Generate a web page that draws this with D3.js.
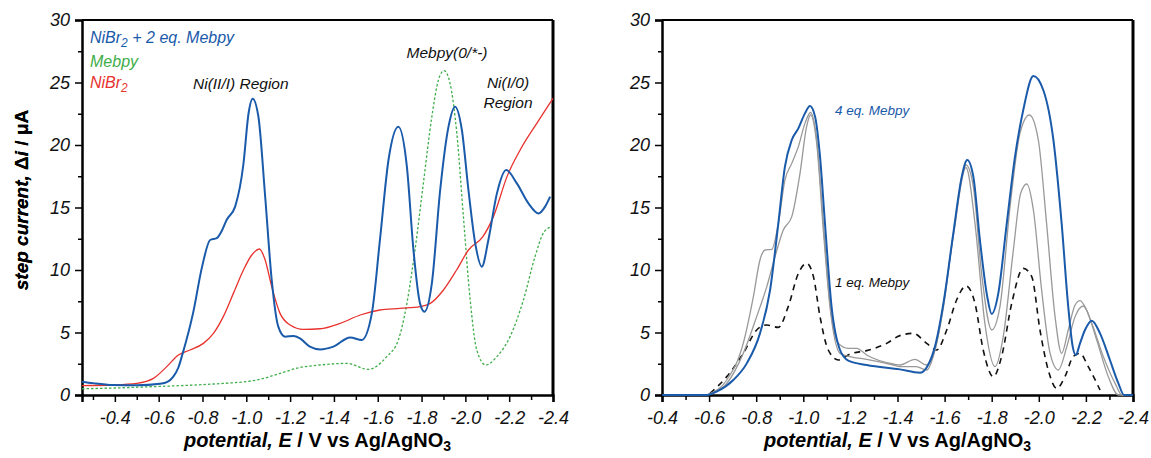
<!DOCTYPE html>
<html>
<head>
<meta charset="utf-8">
<script src="https://cdn.jsdelivr.net/npm/d3@7"></script>
<style>
  body { margin: 0; background: #fff; }
  svg text { font-family: "Liberation Sans", Arial, sans-serif; }
</style>
</head>
<body>
<script>
// left panel: NiBr2 + 2 eq. Mebpy, Mebpy, NiBr2
const mixV = [-0.25,-0.3,-0.39,-0.5,-0.606,-0.64,-0.666,-0.69,-0.71,-0.757,-0.798,-0.835,-0.865,-0.89,-0.91,-0.949,-0.987,-1.01,-1.029,-1.055,-1.086,-1.116,-1.146,-1.177,-1.215,-1.245,-1.29,-1.337,-1.397,-1.474,-1.527,-1.573,-1.61,-1.649,-1.694,-1.733,-1.763,-1.793,-1.813,-1.847,-1.885,-1.923,-1.953,-1.984,-2.014,-2.045,-2.075,-2.105,-2.144,-2.186,-2.235,-2.288,-2.334,-2.364,-2.387];
const mixI = [1.07,0.95,0.8,0.78,0.9,1.05,1.45,2.2,3.35,6.55,10.25,12.4,12.55,13.2,14.0,15.07,18.5,22.5,23.7,22.3,15.9,9.2,5.47,4.67,4.72,4.53,3.87,3.65,3.87,4.61,4.4,6.53,12.4,18.8,21.47,18.27,11.6,7.33,6.67,8.93,16.4,21.47,23.07,21.2,16.4,12.13,10.27,12.4,16.13,18.0,16.93,15.33,14.53,15.07,15.87];

const mebpyV = [-0.25,-0.4,-0.545,-0.7,-0.85,-1.048,-1.154,-1.245,-1.337,-1.459,-1.557,-1.641,-1.694,-1.733,-1.77,-1.808,-1.847,-1.877,-1.903,-1.93,-1.961,-1.991,-2.022,-2.052,-2.093,-2.144,-2.204,-2.265,-2.318,-2.36,-2.395];
const mebpyI = [0.5,0.56,0.65,0.75,0.88,1.2,1.73,2.2,2.4,2.53,2.05,3.07,4.4,7.33,11.6,16.9,22.27,25.2,25.95,24.93,20.93,14.27,7.6,3.6,2.4,3.07,4.67,7.6,11.07,13.07,13.47];

const nibrV = [-0.25,-0.39,-0.5,-0.576,-0.637,-0.69,-0.743,-0.804,-0.85,-0.895,-0.941,-0.987,-1.025,-1.06,-1.086,-1.116,-1.154,-1.2,-1.26,-1.337,-1.428,-1.52,-1.61,-1.702,-1.793,-1.84,-1.9,-1.96,-2.014,-2.08,-2.128,-2.19,-2.25,-2.326,-2.4];
const nibrI = [0.75,0.8,0.93,1.33,2.27,3.2,3.6,4.13,4.93,6.27,8.13,10.0,11.2,11.68,10.8,8.67,6.53,5.6,5.25,5.3,5.73,6.4,6.8,6.93,7.07,7.33,8.4,10.0,11.6,12.67,14.27,17.47,19.6,21.73,23.73];

// right panel: 4 eq. (blue), two intermediate (gray), 1 eq. (dashed)
const eq4V = [-0.4,-0.59,-0.632,-0.703,-0.76,-0.816,-0.859,-0.894,-0.922,-0.951,-0.979,-1.007,-1.028,-1.05,-1.071,-1.092,-1.12,-1.156,-1.191,-1.269,-1.41,-1.496,-1.53,-1.559,-1.595,-1.637,-1.673,-1.696,-1.722,-1.75,-1.781,-1.8,-1.828,-1.864,-1.899,-1.934,-1.977,-2.019,-2.062,-2.097,-2.125,-2.144,-2.157,-2.175,-2.196,-2.225,-2.26,-2.302,-2.338,-2.362,-2.4];
const eq4I = [0,0,0.27,1.2,2.53,4.93,8.4,13.73,18.27,20.4,21.33,22.53,23.12,22.27,19.07,13.73,7.07,3.6,2.75,2.4,2.05,1.79,2.4,3.87,7.33,12.93,17.47,18.8,17.47,12.4,7.87,6.48,8.13,13.73,19.07,22.8,25.52,24.4,20.4,13.73,7.07,3.87,3.2,4.13,5.2,5.95,4.93,2.8,0.93,0,0];

const eq3V = [-0.4,-0.59,-0.604,-0.675,-0.745,-0.788,-0.816,-0.837,-0.866,-0.894,-0.922,-0.951,-0.979,-1.007,-1.031,-1.057,-1.085,-1.113,-1.149,-1.191,-1.227,-1.269,-1.382,-1.41,-1.474,-1.524,-1.559,-1.595,-1.637,-1.691,-1.722,-1.757,-1.8,-1.835,-1.878,-1.92,-1.96,-1.998,-2.033,-2.069,-2.097,-2.125,-2.154,-2.175,-2.203,-2.246,-2.295,-2.338,-2.4];
const eq3I = [0,0,0.1,1.2,4.13,7.87,10.8,11.6,11.65,13.73,17.2,18.53,19.87,21.73,22.6,20.4,13.73,7.33,4.13,3.73,3.73,3.2,2.48,2.4,2.85,2.4,3.6,7.0,12.9,18.4,16.67,9.73,5.2,7.07,15.07,20.93,22.4,20.4,13.73,6.27,3.33,5.2,7.2,7.55,6.8,4.4,1.47,0,0];

const eq2V = [-0.4,-0.59,-0.604,-0.675,-0.745,-0.802,-0.845,-0.88,-0.915,-0.951,-0.986,-1.014,-1.031,-1.057,-1.085,-1.113,-1.156,-1.198,-1.269,-1.382,-1.41,-1.48,-1.524,-1.559,-1.595,-1.637,-1.691,-1.729,-1.771,-1.814,-1.849,-1.892,-1.923,-1.949,-1.977,-2.012,-2.048,-2.083,-2.119,-2.154,-2.189,-2.225,-2.274,-2.324,-2.353,-2.4];
const eq2I = [0,0,0.1,0.93,3.33,6.27,8.67,11.07,13.2,14.27,17.73,21.47,22.4,20.1,13.2,7.1,3.33,3.07,2.85,2.4,2.27,2.27,2.0,3.6,7.3,12.7,18.2,13.73,5.73,2.27,4.67,11.6,16.13,16.88,14.8,8.4,3.33,2.0,3.87,6.27,7.12,5.73,3.07,0.93,0,0];

const eq1V = [-0.604,-0.675,-0.745,-0.802,-0.845,-0.894,-0.936,-0.979,-1.014,-1.043,-1.071,-1.106,-1.149,-1.198,-1.269,-1.354,-1.41,-1.467,-1.524,-1.566,-1.609,-1.651,-1.691,-1.729,-1.764,-1.807,-1.842,-1.885,-1.934,-1.97,-2.005,-2.04,-2.076,-2.111,-2.146,-2.175,-2.21,-2.26];
const eq1I = [0.13,1.47,3.33,5.2,5.6,5.41,7.07,9.73,10.53,9.47,6.27,3.6,2.8,3.28,3.55,4.13,4.75,4.93,4.13,3.6,5.2,7.6,8.72,7.33,3.6,1.47,3.07,7.33,10.13,9.47,5.2,2.0,0.53,1.47,3.07,3.33,2.27,0.4];

const yTicks = [0, 5, 10, 15, 20, 25, 30];
const xTicks = [-0.4, -0.6, -0.8, -1.0, -1.2, -1.4, -1.6, -1.8, -2.0, -2.2, -2.4];
const xTickLabels = ["-0.4", "-0.6", "-0.8", "-1.0", "-1.2", "-1.4", "-1.6", "-1.8", "-2.0", "-2.2", "-2.4"];

const W = 1151, H = 458;
const svg = d3.select("body").append("svg").attr("width", W).attr("height", H);

const blue = "#1a5aaa", red = "#e8322e", green = "#3fae4a", gray = "#999999";

function panel(left, xDomain, minorX) {
  const top = 20, w = 471, h = 375;
  const g = svg.append("g").attr("transform", `translate(${left},${top})`);
  const x = d3.scaleLinear().domain(xDomain).range([0, w]);
  const y = d3.scaleLinear().domain([0, 30]).range([h, 0]);

  // minor ticks
  g.append("g").attr("transform", `translate(0,${h})`)
    .call(d3.axisBottom(x).tickValues(minorX).tickSize(5).tickFormat(""))
    .call(a => a.select(".domain").remove())
    .selectAll("line").attr("stroke-width", 1.5);
  g.append("g")
    .call(d3.axisLeft(y).tickValues(d3.range(2.5, 30, 5)).tickSize(4).tickFormat(""))
    .call(a => a.select(".domain").remove())
    .selectAll("line").attr("stroke-width", 1.5);

  const xa = g.append("g").attr("transform", `translate(0,${h})`)
    .call(d3.axisBottom(x).tickValues(xTicks).tickSize(7).tickPadding(9)
      .tickFormat((d, i) => xTickLabels[i]));
  const ya = g.append("g")
    .call(d3.axisLeft(y).tickValues(yTicks).tickSize(7).tickPadding(5));
  [xa, ya].forEach(a => {
    a.select(".domain").attr("stroke-width", 2.5);
    a.selectAll("line").attr("stroke-width", 1.5);
    a.selectAll("text").attr("font-size", 18).attr("font-style", "italic").attr("fill", "#111");
  });
  // frame top / right
  g.append("line").attr("x1", 0).attr("x2", w).attr("y1", 0).attr("y2", 0)
    .attr("stroke", "#000").attr("stroke-width", 2);
  g.append("line").attr("x1", w).attr("x2", w).attr("y1", 0).attr("y2", h)
    .attr("stroke", "#000").attr("stroke-width", 3);

  // axis titles
  const xt = g.append("text").attr("x", w / 2).attr("y", h + 52)
    .attr("text-anchor", "middle").attr("font-size", 20).attr("font-weight", "bold");
  xt.append("tspan").attr("font-style", "italic").text("potential, E");
  xt.append("tspan").text(" / V vs Ag/AgNO");
  xt.append("tspan").attr("font-size", 14).attr("dy", 4).text("3");

  const yt = g.append("text")
    .attr("transform", `translate(${-left + 28},${180}) rotate(-90)`)
    .attr("text-anchor", "middle").attr("font-size", 19).attr("font-weight", "bold");
  yt.append("tspan").attr("font-style", "italic").text("step current, ");
  yt.append("tspan").text("\u0394");
  yt.append("tspan").attr("font-style", "italic").text("i");
  yt.append("tspan").text(" / \u03bcA");

  return { g, x, y };
}

function drawLine(p, xs, ys, color, width, dash) {
  const pts = xs.map((v, i) => [v, ys[i]]);
  const line = d3.line().x(d => p.x(d[0])).y(d => p.y(d[1])).curve(d3.curveMonotoneX);
  p.g.append("path").datum(pts).attr("d", line)
    .attr("fill", "none").attr("stroke", color).attr("stroke-width", width)
    .attr("stroke-dasharray", dash || null).attr("stroke-linejoin", "round");
}

// ---------- left panel ----------
const L = panel(82, [-0.25, -2.4], d3.range(-0.3, -2.35, -0.2).map(v => +v.toFixed(1)));
drawLine(L, mebpyV, mebpyI, green, 1.3, "2.5,2");
drawLine(L, nibrV, nibrI, red, 1.3);
drawLine(L, mixV, mixI, blue, 2);

const lab = (p, x, y, txt, color, size, anchor) =>
  p.g.append("text").attr("x", x).attr("y", y).attr("fill", color)
    .attr("font-size", size).attr("font-style", "italic")
    .attr("text-anchor", anchor || "start").text(txt);

const t1 = lab(L, 8, 23, "", blue, 16);
t1.append("tspan").text("NiBr");
t1.append("tspan").attr("font-size", 12).attr("dy", 4).text("2");
t1.append("tspan").attr("dy", -4).text(" + 2 eq. Mebpy");
lab(L, 8, 47, "Mebpy", green, 16);
const t3 = lab(L, 8, 68, "", red, 16);
t3.append("tspan").text("NiBr");
t3.append("tspan").attr("font-size", 12).attr("dy", 4).text("2");
lab(L, 111, 69, "Ni(II/I) Region", "#111", 15.5);
lab(L, 365, 38, "Mebpy(0/*-)", "#111", 15.5, "middle");
lab(L, 426, 68, "Ni(I/0)", "#111", 15.5, "middle");
lab(L, 426, 88, "Region", "#111", 15.5, "middle");

// ---------- right panel ----------
const R = panel(662, [-0.4, -2.4], d3.range(-0.5, -2.35, -0.2).map(v => +v.toFixed(1)));
drawLine(R, eq1V, eq1I, "#111", 1.6, "6,5");
drawLine(R, eq2V, eq2I, gray, 1.3);
drawLine(R, eq3V, eq3I, gray, 1.3);
drawLine(R, eq4V, eq4I, blue, 2);
lab(R, 173, 95, "4 eq. Mebpy", blue, 13.5);
lab(R, 173, 267, "1 eq. Mebpy", "#111", 13.5);
</script>
</body>
</html>
